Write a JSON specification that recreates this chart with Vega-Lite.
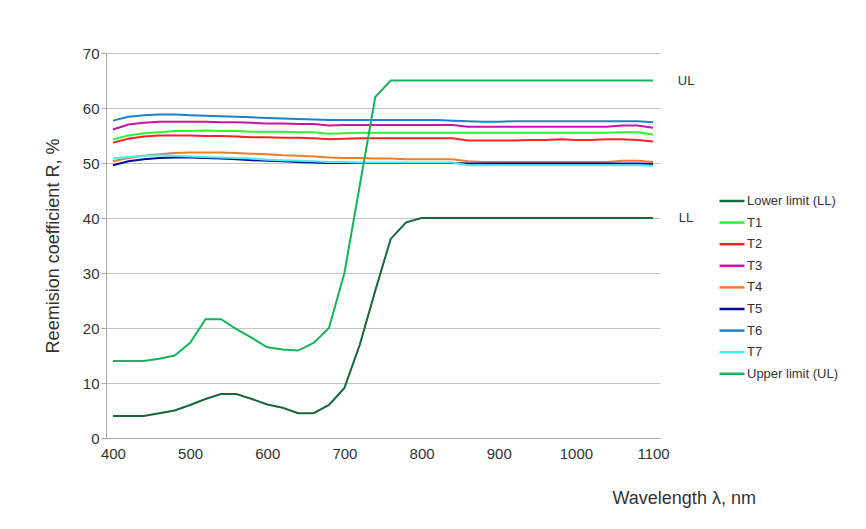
{
  "$schema": "https://vega.github.io/schema/vega-lite/v6.json",
  "width": 554,
  "height": 385,
  "autosize": "none",
  "padding": {"left": 106, "top": 53, "right": 206, "bottom": 91},
  "background": "white",
  "config": {"font": "Liberation Sans", "view": {"stroke": null}},
  "datasets": {
    "notes": [
      {"label": "UL", "wavelength": 1100, "R": 65},
      {"label": "LL", "wavelength": 1100, "R": 40}
    ],
    "spectra": [
      {"series":"Lower limit (LL)","wavelength":400,"R":4},{"series":"Lower limit (LL)","wavelength":420,"R":4},{"series":"Lower limit (LL)","wavelength":440,"R":4},{"series":"Lower limit (LL)","wavelength":460,"R":4.5},{"series":"Lower limit (LL)","wavelength":480,"R":5},{"series":"Lower limit (LL)","wavelength":500,"R":6},{"series":"Lower limit (LL)","wavelength":520,"R":7.1},{"series":"Lower limit (LL)","wavelength":540,"R":8},{"series":"Lower limit (LL)","wavelength":560,"R":8},{"series":"Lower limit (LL)","wavelength":580,"R":7.1},{"series":"Lower limit (LL)","wavelength":600,"R":6.1},{"series":"Lower limit (LL)","wavelength":620,"R":5.5},{"series":"Lower limit (LL)","wavelength":640,"R":4.5},{"series":"Lower limit (LL)","wavelength":660,"R":4.5},{"series":"Lower limit (LL)","wavelength":680,"R":6},{"series":"Lower limit (LL)","wavelength":700,"R":9.1},{"series":"Lower limit (LL)","wavelength":720,"R":17},{"series":"Lower limit (LL)","wavelength":740,"R":26.8},{"series":"Lower limit (LL)","wavelength":760,"R":36.2},{"series":"Lower limit (LL)","wavelength":780,"R":39.2},{"series":"Lower limit (LL)","wavelength":800,"R":40},{"series":"Lower limit (LL)","wavelength":820,"R":40},{"series":"Lower limit (LL)","wavelength":840,"R":40},{"series":"Lower limit (LL)","wavelength":860,"R":40},{"series":"Lower limit (LL)","wavelength":880,"R":40},{"series":"Lower limit (LL)","wavelength":900,"R":40},{"series":"Lower limit (LL)","wavelength":920,"R":40},{"series":"Lower limit (LL)","wavelength":940,"R":40},{"series":"Lower limit (LL)","wavelength":960,"R":40},{"series":"Lower limit (LL)","wavelength":980,"R":40},{"series":"Lower limit (LL)","wavelength":1000,"R":40},{"series":"Lower limit (LL)","wavelength":1020,"R":40},{"series":"Lower limit (LL)","wavelength":1040,"R":40},{"series":"Lower limit (LL)","wavelength":1060,"R":40},{"series":"Lower limit (LL)","wavelength":1080,"R":40},{"series":"Lower limit (LL)","wavelength":1100,"R":40},
      {"series":"T1","wavelength":400,"R":54.3},{"series":"T1","wavelength":420,"R":55.0},{"series":"T1","wavelength":440,"R":55.4},{"series":"T1","wavelength":460,"R":55.6},{"series":"T1","wavelength":480,"R":55.8},{"series":"T1","wavelength":500,"R":55.8},{"series":"T1","wavelength":520,"R":55.9},{"series":"T1","wavelength":540,"R":55.8},{"series":"T1","wavelength":560,"R":55.8},{"series":"T1","wavelength":580,"R":55.7},{"series":"T1","wavelength":600,"R":55.7},{"series":"T1","wavelength":620,"R":55.7},{"series":"T1","wavelength":640,"R":55.6},{"series":"T1","wavelength":660,"R":55.6},{"series":"T1","wavelength":680,"R":55.3},{"series":"T1","wavelength":700,"R":55.4},{"series":"T1","wavelength":720,"R":55.5},{"series":"T1","wavelength":740,"R":55.5},{"series":"T1","wavelength":760,"R":55.5},{"series":"T1","wavelength":780,"R":55.5},{"series":"T1","wavelength":800,"R":55.5},{"series":"T1","wavelength":820,"R":55.5},{"series":"T1","wavelength":840,"R":55.5},{"series":"T1","wavelength":860,"R":55.5},{"series":"T1","wavelength":880,"R":55.5},{"series":"T1","wavelength":900,"R":55.5},{"series":"T1","wavelength":920,"R":55.5},{"series":"T1","wavelength":940,"R":55.5},{"series":"T1","wavelength":960,"R":55.5},{"series":"T1","wavelength":980,"R":55.5},{"series":"T1","wavelength":1000,"R":55.5},{"series":"T1","wavelength":1020,"R":55.5},{"series":"T1","wavelength":1040,"R":55.5},{"series":"T1","wavelength":1060,"R":55.6},{"series":"T1","wavelength":1080,"R":55.6},{"series":"T1","wavelength":1100,"R":55.2},
      {"series":"T2","wavelength":400,"R":53.7},{"series":"T2","wavelength":420,"R":54.4},{"series":"T2","wavelength":440,"R":54.8},{"series":"T2","wavelength":460,"R":55.0},{"series":"T2","wavelength":480,"R":55.0},{"series":"T2","wavelength":500,"R":55.0},{"series":"T2","wavelength":520,"R":54.9},{"series":"T2","wavelength":540,"R":54.9},{"series":"T2","wavelength":560,"R":54.8},{"series":"T2","wavelength":580,"R":54.7},{"series":"T2","wavelength":600,"R":54.7},{"series":"T2","wavelength":620,"R":54.6},{"series":"T2","wavelength":640,"R":54.6},{"series":"T2","wavelength":660,"R":54.5},{"series":"T2","wavelength":680,"R":54.3},{"series":"T2","wavelength":700,"R":54.4},{"series":"T2","wavelength":720,"R":54.5},{"series":"T2","wavelength":740,"R":54.5},{"series":"T2","wavelength":760,"R":54.5},{"series":"T2","wavelength":780,"R":54.5},{"series":"T2","wavelength":800,"R":54.5},{"series":"T2","wavelength":820,"R":54.5},{"series":"T2","wavelength":840,"R":54.5},{"series":"T2","wavelength":860,"R":54.1},{"series":"T2","wavelength":880,"R":54.1},{"series":"T2","wavelength":900,"R":54.1},{"series":"T2","wavelength":920,"R":54.1},{"series":"T2","wavelength":940,"R":54.2},{"series":"T2","wavelength":960,"R":54.2},{"series":"T2","wavelength":980,"R":54.3},{"series":"T2","wavelength":1000,"R":54.2},{"series":"T2","wavelength":1020,"R":54.2},{"series":"T2","wavelength":1040,"R":54.3},{"series":"T2","wavelength":1060,"R":54.3},{"series":"T2","wavelength":1080,"R":54.2},{"series":"T2","wavelength":1100,"R":53.9},
      {"series":"T3","wavelength":400,"R":56.1},{"series":"T3","wavelength":420,"R":57.0},{"series":"T3","wavelength":440,"R":57.3},{"series":"T3","wavelength":460,"R":57.5},{"series":"T3","wavelength":480,"R":57.5},{"series":"T3","wavelength":500,"R":57.5},{"series":"T3","wavelength":520,"R":57.5},{"series":"T3","wavelength":540,"R":57.4},{"series":"T3","wavelength":560,"R":57.4},{"series":"T3","wavelength":580,"R":57.3},{"series":"T3","wavelength":600,"R":57.2},{"series":"T3","wavelength":620,"R":57.2},{"series":"T3","wavelength":640,"R":57.1},{"series":"T3","wavelength":660,"R":57.1},{"series":"T3","wavelength":680,"R":56.8},{"series":"T3","wavelength":700,"R":56.9},{"series":"T3","wavelength":720,"R":56.9},{"series":"T3","wavelength":740,"R":56.9},{"series":"T3","wavelength":760,"R":56.9},{"series":"T3","wavelength":780,"R":56.9},{"series":"T3","wavelength":800,"R":56.9},{"series":"T3","wavelength":820,"R":56.9},{"series":"T3","wavelength":840,"R":56.9},{"series":"T3","wavelength":860,"R":56.6},{"series":"T3","wavelength":880,"R":56.6},{"series":"T3","wavelength":900,"R":56.6},{"series":"T3","wavelength":920,"R":56.6},{"series":"T3","wavelength":940,"R":56.6},{"series":"T3","wavelength":960,"R":56.6},{"series":"T3","wavelength":980,"R":56.6},{"series":"T3","wavelength":1000,"R":56.6},{"series":"T3","wavelength":1020,"R":56.6},{"series":"T3","wavelength":1040,"R":56.6},{"series":"T3","wavelength":1060,"R":56.8},{"series":"T3","wavelength":1080,"R":56.8},{"series":"T3","wavelength":1100,"R":56.4},
      {"series":"T4","wavelength":400,"R":50.3},{"series":"T4","wavelength":420,"R":50.9},{"series":"T4","wavelength":440,"R":51.3},{"series":"T4","wavelength":460,"R":51.6},{"series":"T4","wavelength":480,"R":51.8},{"series":"T4","wavelength":500,"R":51.9},{"series":"T4","wavelength":520,"R":51.9},{"series":"T4","wavelength":540,"R":51.9},{"series":"T4","wavelength":560,"R":51.8},{"series":"T4","wavelength":580,"R":51.7},{"series":"T4","wavelength":600,"R":51.6},{"series":"T4","wavelength":620,"R":51.4},{"series":"T4","wavelength":640,"R":51.3},{"series":"T4","wavelength":660,"R":51.2},{"series":"T4","wavelength":680,"R":51.0},{"series":"T4","wavelength":700,"R":50.9},{"series":"T4","wavelength":720,"R":50.9},{"series":"T4","wavelength":740,"R":50.8},{"series":"T4","wavelength":760,"R":50.8},{"series":"T4","wavelength":780,"R":50.7},{"series":"T4","wavelength":800,"R":50.7},{"series":"T4","wavelength":820,"R":50.7},{"series":"T4","wavelength":840,"R":50.7},{"series":"T4","wavelength":860,"R":50.3},{"series":"T4","wavelength":880,"R":50.2},{"series":"T4","wavelength":900,"R":50.2},{"series":"T4","wavelength":920,"R":50.2},{"series":"T4","wavelength":940,"R":50.2},{"series":"T4","wavelength":960,"R":50.2},{"series":"T4","wavelength":980,"R":50.2},{"series":"T4","wavelength":1000,"R":50.2},{"series":"T4","wavelength":1020,"R":50.2},{"series":"T4","wavelength":1040,"R":50.2},{"series":"T4","wavelength":1060,"R":50.4},{"series":"T4","wavelength":1080,"R":50.4},{"series":"T4","wavelength":1100,"R":50.2},
      {"series":"T5","wavelength":400,"R":49.6},{"series":"T5","wavelength":420,"R":50.3},{"series":"T5","wavelength":440,"R":50.7},{"series":"T5","wavelength":460,"R":50.9},{"series":"T5","wavelength":480,"R":51.0},{"series":"T5","wavelength":500,"R":51.0},{"series":"T5","wavelength":520,"R":50.9},{"series":"T5","wavelength":540,"R":50.8},{"series":"T5","wavelength":560,"R":50.7},{"series":"T5","wavelength":580,"R":50.5},{"series":"T5","wavelength":600,"R":50.4},{"series":"T5","wavelength":620,"R":50.3},{"series":"T5","wavelength":640,"R":50.2},{"series":"T5","wavelength":660,"R":50.1},{"series":"T5","wavelength":680,"R":50.0},{"series":"T5","wavelength":700,"R":50.0},{"series":"T5","wavelength":720,"R":50.0},{"series":"T5","wavelength":740,"R":50.0},{"series":"T5","wavelength":760,"R":50.0},{"series":"T5","wavelength":780,"R":50.0},{"series":"T5","wavelength":800,"R":50.0},{"series":"T5","wavelength":820,"R":50.0},{"series":"T5","wavelength":840,"R":50.0},{"series":"T5","wavelength":860,"R":49.9},{"series":"T5","wavelength":880,"R":49.9},{"series":"T5","wavelength":900,"R":49.9},{"series":"T5","wavelength":920,"R":49.9},{"series":"T5","wavelength":940,"R":49.9},{"series":"T5","wavelength":960,"R":49.9},{"series":"T5","wavelength":980,"R":49.9},{"series":"T5","wavelength":1000,"R":49.9},{"series":"T5","wavelength":1020,"R":49.9},{"series":"T5","wavelength":1040,"R":49.9},{"series":"T5","wavelength":1060,"R":49.9},{"series":"T5","wavelength":1080,"R":49.9},{"series":"T5","wavelength":1100,"R":49.8},
      {"series":"T6","wavelength":400,"R":57.7},{"series":"T6","wavelength":420,"R":58.4},{"series":"T6","wavelength":440,"R":58.7},{"series":"T6","wavelength":460,"R":58.8},{"series":"T6","wavelength":480,"R":58.8},{"series":"T6","wavelength":500,"R":58.7},{"series":"T6","wavelength":520,"R":58.6},{"series":"T6","wavelength":540,"R":58.5},{"series":"T6","wavelength":560,"R":58.4},{"series":"T6","wavelength":580,"R":58.3},{"series":"T6","wavelength":600,"R":58.2},{"series":"T6","wavelength":620,"R":58.1},{"series":"T6","wavelength":640,"R":58.0},{"series":"T6","wavelength":660,"R":57.9},{"series":"T6","wavelength":680,"R":57.8},{"series":"T6","wavelength":700,"R":57.8},{"series":"T6","wavelength":720,"R":57.8},{"series":"T6","wavelength":740,"R":57.8},{"series":"T6","wavelength":760,"R":57.8},{"series":"T6","wavelength":780,"R":57.8},{"series":"T6","wavelength":800,"R":57.8},{"series":"T6","wavelength":820,"R":57.8},{"series":"T6","wavelength":840,"R":57.7},{"series":"T6","wavelength":860,"R":57.6},{"series":"T6","wavelength":880,"R":57.5},{"series":"T6","wavelength":900,"R":57.5},{"series":"T6","wavelength":920,"R":57.6},{"series":"T6","wavelength":940,"R":57.6},{"series":"T6","wavelength":960,"R":57.6},{"series":"T6","wavelength":980,"R":57.6},{"series":"T6","wavelength":1000,"R":57.6},{"series":"T6","wavelength":1020,"R":57.6},{"series":"T6","wavelength":1040,"R":57.6},{"series":"T6","wavelength":1060,"R":57.6},{"series":"T6","wavelength":1080,"R":57.6},{"series":"T6","wavelength":1100,"R":57.4},
      {"series":"T7","wavelength":400,"R":50.8},{"series":"T7","wavelength":420,"R":51.1},{"series":"T7","wavelength":440,"R":51.3},{"series":"T7","wavelength":460,"R":51.4},{"series":"T7","wavelength":480,"R":51.3},{"series":"T7","wavelength":500,"R":51.2},{"series":"T7","wavelength":520,"R":51.1},{"series":"T7","wavelength":540,"R":51.0},{"series":"T7","wavelength":560,"R":50.9},{"series":"T7","wavelength":580,"R":50.8},{"series":"T7","wavelength":600,"R":50.6},{"series":"T7","wavelength":620,"R":50.5},{"series":"T7","wavelength":640,"R":50.4},{"series":"T7","wavelength":660,"R":50.3},{"series":"T7","wavelength":680,"R":50.2},{"series":"T7","wavelength":700,"R":50.2},{"series":"T7","wavelength":720,"R":50.1},{"series":"T7","wavelength":740,"R":50.1},{"series":"T7","wavelength":760,"R":50.1},{"series":"T7","wavelength":780,"R":50.1},{"series":"T7","wavelength":800,"R":50.1},{"series":"T7","wavelength":820,"R":50.1},{"series":"T7","wavelength":840,"R":50.1},{"series":"T7","wavelength":860,"R":49.6},{"series":"T7","wavelength":880,"R":49.6},{"series":"T7","wavelength":900,"R":49.6},{"series":"T7","wavelength":920,"R":49.6},{"series":"T7","wavelength":940,"R":49.6},{"series":"T7","wavelength":960,"R":49.6},{"series":"T7","wavelength":980,"R":49.6},{"series":"T7","wavelength":1000,"R":49.6},{"series":"T7","wavelength":1020,"R":49.6},{"series":"T7","wavelength":1040,"R":49.6},{"series":"T7","wavelength":1060,"R":49.6},{"series":"T7","wavelength":1080,"R":49.6},{"series":"T7","wavelength":1100,"R":49.5},
      {"series":"Upper limit (UL)","wavelength":400,"R":14},{"series":"Upper limit (UL)","wavelength":420,"R":14},{"series":"Upper limit (UL)","wavelength":440,"R":14},{"series":"Upper limit (UL)","wavelength":460,"R":14.4},{"series":"Upper limit (UL)","wavelength":480,"R":15},{"series":"Upper limit (UL)","wavelength":500,"R":17.3},{"series":"Upper limit (UL)","wavelength":520,"R":21.6},{"series":"Upper limit (UL)","wavelength":540,"R":21.6},{"series":"Upper limit (UL)","wavelength":560,"R":19.8},{"series":"Upper limit (UL)","wavelength":580,"R":18.2},{"series":"Upper limit (UL)","wavelength":600,"R":16.5},{"series":"Upper limit (UL)","wavelength":620,"R":16.1},{"series":"Upper limit (UL)","wavelength":640,"R":15.9},{"series":"Upper limit (UL)","wavelength":660,"R":17.3},{"series":"Upper limit (UL)","wavelength":680,"R":20},{"series":"Upper limit (UL)","wavelength":700,"R":30},{"series":"Upper limit (UL)","wavelength":720,"R":46},{"series":"Upper limit (UL)","wavelength":740,"R":62},{"series":"Upper limit (UL)","wavelength":760,"R":65},{"series":"Upper limit (UL)","wavelength":780,"R":65},{"series":"Upper limit (UL)","wavelength":800,"R":65},{"series":"Upper limit (UL)","wavelength":820,"R":65},{"series":"Upper limit (UL)","wavelength":840,"R":65},{"series":"Upper limit (UL)","wavelength":860,"R":65},{"series":"Upper limit (UL)","wavelength":880,"R":65},{"series":"Upper limit (UL)","wavelength":900,"R":65},{"series":"Upper limit (UL)","wavelength":920,"R":65},{"series":"Upper limit (UL)","wavelength":940,"R":65},{"series":"Upper limit (UL)","wavelength":960,"R":65},{"series":"Upper limit (UL)","wavelength":980,"R":65},{"series":"Upper limit (UL)","wavelength":1000,"R":65},{"series":"Upper limit (UL)","wavelength":1020,"R":65},{"series":"Upper limit (UL)","wavelength":1040,"R":65},{"series":"Upper limit (UL)","wavelength":1060,"R":65},{"series":"Upper limit (UL)","wavelength":1080,"R":65},{"series":"Upper limit (UL)","wavelength":1100,"R":65}
    ]
  },
  "layer": [
    {
      "data": {"name": "spectra"},
      "mark": {"type": "line", "strokeWidth": 2},
      "encoding": {
        "x": {
          "field": "wavelength", "type": "quantitative",
          "scale": {"domain": [391, 1109], "nice": false, "zero": false},
          "axis": {
            "values": [400, 500, 600, 700, 800, 900, 1000, 1100],
            "format": "d",
            "title": "Wavelength λ, nm",
            "titleFontSize": 18, "titleFontWeight": "normal", "titleColor": "#333333",
            "titleX": 506, "titleY": 65, "titleAlign": "left", "titleBaseline": "alphabetic", "titleAnchor": null,
            "labelFontSize": 15, "labelColor": "#333333", "labelPadding": 8, "labelFlush": false,
            "ticks": false, "tickSize": 0, "grid": false,
            "domainColor": "#aaaaaa", "domainWidth": 1
          }
        },
        "y": {
          "field": "R", "type": "quantitative",
          "scale": {"domain": [0, 70], "nice": false, "zero": true},
          "axis": {
            "values": [0, 10, 20, 30, 40, 50, 60, 70],
            "title": "Reemision coefficient R, %",
            "titleFontSize": 18, "titleFontWeight": "normal", "titleColor": "#333333", "titlePadding": 20,
            "labelFontSize": 15, "labelColor": "#333333", "labelPadding": 2,
            "tickSize": 5, "tickColor": "#aaaaaa",
            "grid": true, "gridColor": "#c4c4c4", "gridWidth": 1,
            "domainColor": "#aaaaaa", "domainWidth": 1
          }
        },
        "color": {
          "field": "series", "type": "nominal",
          "scale": {
            "domain": ["Lower limit (LL)", "T1", "T2", "T3", "T4", "T5", "T6", "T7", "Upper limit (UL)"],
            "range": ["#17673a", "#33f033", "#ff2222", "#cc12a8", "#f07d24", "#0a0a96", "#1f80cc", "#3ef0f8", "#14b35e"]
          },
          "legend": {
            "title": null, "orient": "none", "legendX": 612, "legendY": 134,
            "symbolType": "stroke", "symbolSize": 625, "symbolStrokeWidth": 2.5,
            "labelFontSize": 13, "labelColor": "#333333", "labelOffset": 1,
            "rowPadding": 0.6, "padding": 0
          }
        }
      }
    },
    {
      "data": {"name": "notes"},
      "mark": {"type": "text", "dx": 33, "fontSize": 13, "color": "#333333", "align": "center", "baseline": "middle"},
      "encoding": {
        "x": {"field": "wavelength", "type": "quantitative"},
        "y": {"field": "R", "type": "quantitative"},
        "text": {"field": "label"}
      }
    }
  ]
}
